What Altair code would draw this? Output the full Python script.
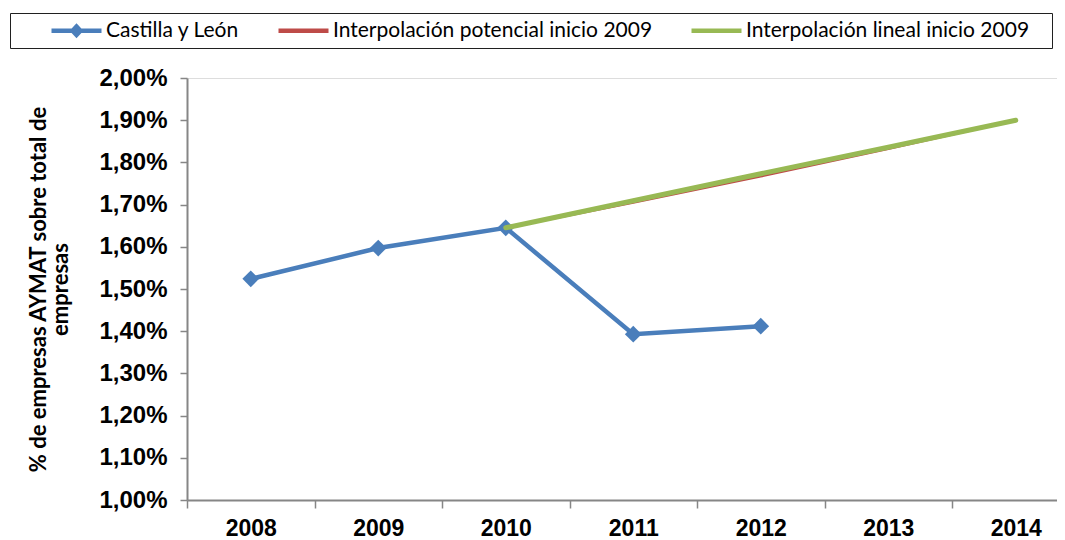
import altair as alt
import pandas as pd

# ---- data ----
years_obs = [2008, 2009, 2010, 2011, 2012]
castilla = [1.524, 1.597, 1.645, 1.393, 1.412]
years_fit = [2010, 2011, 2012, 2013, 2014]
potencial = [1.645, 1.705, 1.767, 1.832, 1.900]
lineal = [1.645, 1.709, 1.773, 1.836, 1.900]

series_names = ["Castilla y León",
                "Interpolación potencial inicio 2009",
                "Interpolación lineal inicio 2009"]
series_colors = ["#4A7EBB", "#BE4B48", "#98B954"]
y_ticks = [1.0, 1.1, 1.2, 1.3, 1.4, 1.5, 1.6, 1.7, 1.8, 1.9, 2.0]
x_ticks = [2008, 2009, 2010, 2011, 2012, 2013, 2014]

df_obs = pd.DataFrame({"year": years_obs, "value": castilla, "series": series_names[0]})
df_pot = pd.DataFrame({"year": years_fit, "value": potencial, "series": series_names[1]})
df_lin = pd.DataFrame({"year": years_fit, "value": lineal, "series": series_names[2]})
# legend-only rows, placed outside the x domain and clipped away
df_leg = pd.DataFrame({"series": series_names, "year": [2030] * 3, "value": [1.5] * 3})

W, H = 870, 422
band = 127.5
x_scale = alt.Scale(domain=[2007.5, 2007.5 + W / band], nice=False, zero=False)
y_scale = alt.Scale(domain=[1.0, 2.0], nice=False, zero=False)

AX = "#868686"
x_enc = alt.X("year:Q", scale=x_scale, axis=alt.Axis(
    values=x_ticks, title=None, format="d", grid=False,
    tickOffset=-band / 2, labelOffset=band / 2, tickSize=8, tickColor=AX, tickWidth=1.5,
    domainColor=AX, domainWidth=2, labelFont="Liberation Sans", labelFontWeight="bold",
    labelFontSize=23, labelColor="black", labelPadding=9, labelFlush=False,
    labelOverlap=False, labelBound=False))
y_enc = alt.Y("value:Q", scale=y_scale, axis=alt.Axis(
    values=y_ticks, grid=False,
    labelExpr="replace(format(datum.value, '.2f'), '.', ',') + '%'",
    tickSize=7, tickColor=AX, tickWidth=1.5, domainColor=AX, domainWidth=2,
    labelFont="Liberation Sans", labelFontWeight="bold", labelFontSize=24,
    labelColor="black", labelPadding=13, labelOverlap=False, labelBound=False,
    labelFlush=False,
    title=["% de empresas AYMAT sobre total de", "empresas"],
    titleFont="Lato", titleFontWeight="bold", titleFontSize=22, titleColor="black",
    titleAngle=270, titleAlign="center", titleBaseline="bottom", titleLineHeight=22,
    titleX=-137, titleY=H / 2))

blue_line = alt.Chart(df_obs).mark_line(strokeWidth=4.5, color=series_colors[0]).encode(
    x=x_enc, y=y_enc)
blue_pts = alt.Chart(df_obs).mark_point(shape="diamond", filled=True, size=280, opacity=1,
                                        color=series_colors[0]).encode(x=x_enc, y=y_enc)
red_line = alt.Chart(df_pot).mark_line(strokeWidth=2.5, color=series_colors[1]).encode(
    x=x_enc, y=y_enc)
green_line = alt.Chart(df_lin).mark_line(strokeWidth=5, strokeCap="round",
                                         color=series_colors[2]).encode(x=x_enc, y=y_enc)

# legend symbols: custom paths (line + diamond, plain lines)
line_path = "M-1,-0.22H4V0.22H-1Z"
diamond_line_path = "M-1,-0.22H4V0.22H-1Z M1.5,-0.75L2.2,0L1.5,0.75L0.8,0Z"
shape_scale = alt.Scale(domain=series_names, range=[diamond_line_path, line_path, line_path])
fill_scale = alt.Scale(domain=series_names, range=series_colors)
NB = "\u00a0"
BLANK = "\u2800"  # blank (non-whitespace) glyph used to widen the last legend entry
leg = alt.Legend(
    orient="none", legendX=-177, legendY=-65, direction="horizontal",
    title=NB, titleOrient="left", titlePadding=34, titleFont="Lato", titleFontSize=21,
    labelFont="Lato", labelFontSize=21, labelColor="black", labelLimit=1000, labelOffset=34,
    labelExpr="datum.index == 2 ? datum.label + '" + BLANK + "' : datum.label",
    symbolSize=400, symbolStrokeWidth=0, strokeColor="#202020", padding=7, columnPadding=38)
legend_layer = alt.Chart(df_leg).mark_point(filled=True, opacity=1, clip=True).encode(
    x=x_enc, y=y_enc,
    fill=alt.Fill("series:N", scale=fill_scale, legend=leg),
    shape=alt.Shape("series:N", scale=shape_scale, legend=leg))

base = alt.layer(blue_line, blue_pts, red_line, green_line, legend_layer).properties(
    width=W, height=H,
    padding={"left": 179, "top": 70, "right": 0, "bottom": 40},
    autosize=alt.AutoSizeParams(type="none"),
)

try:
    chart = base.configure_view(stroke=None).configure_legend(strokeWidth=2).configure(
        background="white")
    chart.to_dict()
except Exception:
    chart = base.configure_view(stroke=None).configure(background="white")

chart.save("out.html", embed_options={"renderer": "svg", "actions": False})
